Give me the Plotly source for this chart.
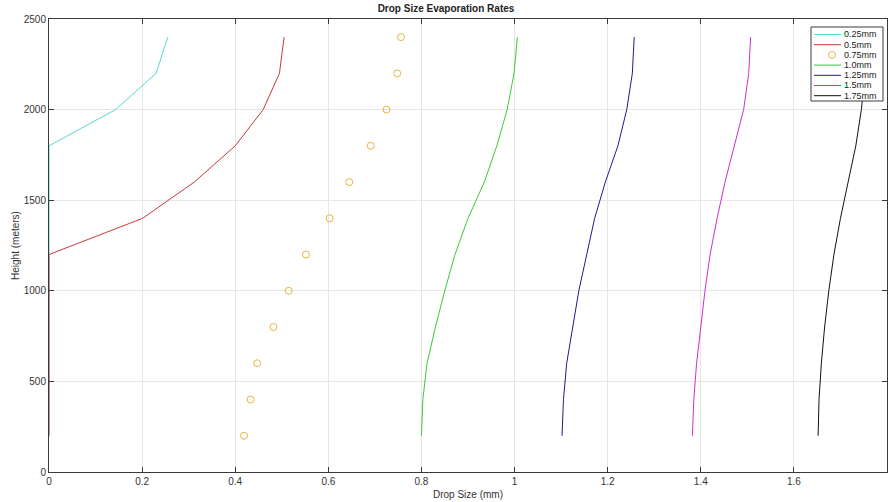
import plotly.graph_objects as go

heights = [200, 400, 600, 800, 1000, 1200, 1400, 1600, 1800, 2000, 2200, 2400]

d025 = [0, 0, 0, 0, 0, 0, 0, 0, 0, 0.143, 0.230, 0.255]
d050 = [0, 0, 0, 0, 0, 0, 0.201, 0.312, 0.400, 0.460, 0.495, 0.505]
d075 = [0.419, 0.433, 0.447, 0.482, 0.515, 0.552, 0.603, 0.645, 0.691, 0.725, 0.748, 0.756]
d100 = [0.800, 0.803, 0.812, 0.830, 0.850, 0.872, 0.900, 0.935, 0.962, 0.984, 0.999, 1.006]
d125 = [1.102, 1.105, 1.112, 1.125, 1.138, 1.155, 1.172, 1.195, 1.222, 1.241, 1.253, 1.257]
d150 = [1.382, 1.385, 1.391, 1.400, 1.409, 1.420, 1.435, 1.452, 1.472, 1.492, 1.503, 1.507]
d175 = [1.652, 1.654, 1.659, 1.666, 1.675, 1.686, 1.700, 1.717, 1.733, 1.745, 1.753, 1.757]

names = ["0.25mm", "0.5mm", "0.75mm", "1.0mm", "1.25mm", "1.5mm", "1.75mm"]
series = [d025, d050, d075, d100, d125, d150, d175]
colors = ["#55d8d8", "#c83a3a", "#e8b440", "#3cc83c", "#1c1c8c", "#d22cd2", "#111111"]

x_ticks = [0, 0.2, 0.4, 0.6, 0.8, 1, 1.2, 1.4, 1.6, 1.8]
x_ticktext = ["0", "0.2", "0.4", "0.6", "0.8", "1", "1.2", "1.4", "1.6", "1.8"]
y_ticks = [0, 500, 1000, 1500, 2000, 2500]

W, H = 892, 502
ML, MR, MT, MB = 49, 5, 19, 30
PW, PH = W - ML - MR, H - MT - MB


def px_x(X):
    return (X - ML) / PW


def px_y(Y):
    return (H - MB - Y) / PH


fig = go.Figure()
for name, vals, col in zip(names, series, colors):
    if name == "0.75mm":
        fig.add_trace(go.Scatter(
            x=vals, y=heights, name=name, mode="markers", showlegend=False,
            marker=dict(symbol="circle-open", size=7, color=col, line=dict(width=1, color=col)),
        ))
    else:
        fig.add_trace(go.Scatter(
            x=vals, y=heights, name=name, mode="lines", showlegend=False,
            line=dict(color=col, width=1),
        ))

# compact legend box (MATLAB style)
box_l, box_r, box_t, box_b = 811, 883, 27, 101
first_y, step_y = 34.5, 10.2
fig.add_shape(type="rect", xref="paper", yref="paper",
              x0=px_x(box_l), x1=px_x(box_r), y0=px_y(box_b), y1=px_y(box_t),
              fillcolor="white", line=dict(color="#3a3a3a", width=1), layer="above")
for i, (name, col) in enumerate(zip(names, colors)):
    yc = first_y + i * step_y
    if name == "0.75mm":
        fig.add_shape(type="circle", xref="paper", yref="paper",
                      x0=px_x(828.5), x1=px_x(835.5), y0=px_y(yc + 3.5), y1=px_y(yc - 3.5),
                      line=dict(color=col, width=1), layer="above")
    else:
        fig.add_shape(type="line", xref="paper", yref="paper",
                      x0=px_x(814), x1=px_x(841), y0=px_y(yc), y1=px_y(yc),
                      line=dict(color=col, width=1), layer="above")
    fig.add_annotation(text=name, xref="paper", yref="paper",
                       x=px_x(842), y=px_y(yc), xanchor="left", yanchor="middle",
                       showarrow=False, font=dict(size=9, color="#222222"))

axis_common = dict(
    showgrid=True, gridcolor="#e6e6e6", gridwidth=1,
    showline=True, linecolor="#3a3a3a", linewidth=1, mirror="ticks",
    ticks="inside", ticklen=5, tickcolor="#3a3a3a",
    zeroline=False, automargin=False,
    tickfont=dict(family="Liberation Sans, Arial, sans-serif", size=10, color="#333333"),
)

fig.update_layout(
    width=W, height=H,
    margin=dict(l=ML, r=MR, t=MT, b=MB),
    paper_bgcolor="white", plot_bgcolor="white",
    font=dict(family="Liberation Sans, Arial, sans-serif", size=10, color="#333333"),
    title=dict(text="<b>Drop Size Evaporation Rates</b>", x=0.5, xanchor="center",
               y=0.99, yanchor="top", font=dict(size=10, color="#222222")),
    xaxis=dict(range=[0, 1.8], tickvals=x_ticks, ticktext=x_ticktext,
               title=dict(text="Drop Size (mm)", standoff=4, font=dict(size=10)), **axis_common),
    yaxis=dict(range=[0, 2500], tickvals=y_ticks,
               title=dict(text="Height (meters)", standoff=2, font=dict(size=10)), **axis_common),
    showlegend=False,
)

fig.write_html("out.html", config={"displayModeBar": False},
               post_script="document.body.style.margin='0px';")
